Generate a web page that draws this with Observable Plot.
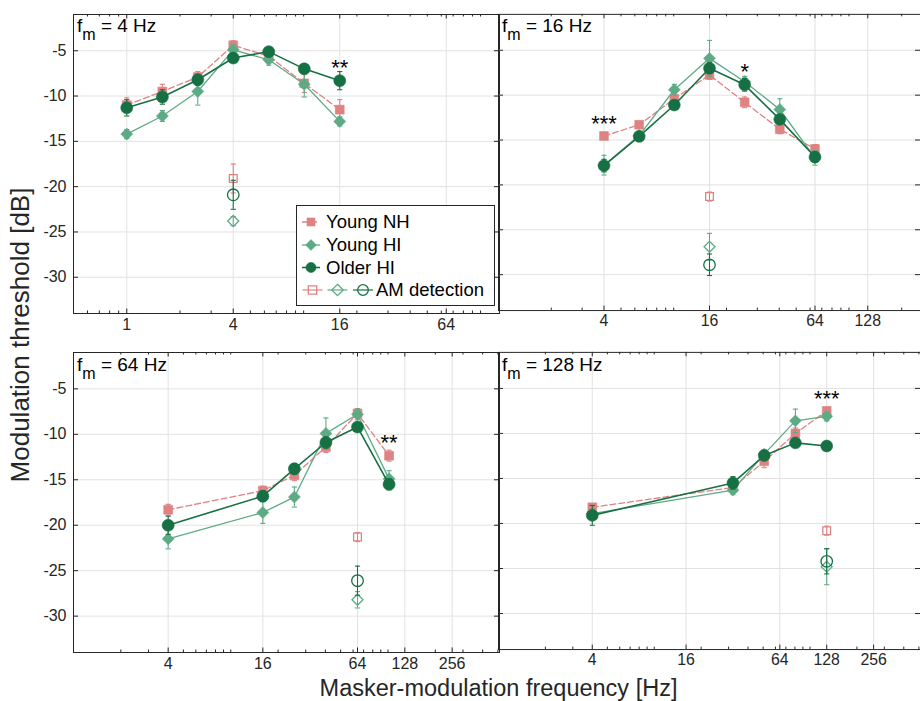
<!DOCTYPE html>
<html><head><meta charset="utf-8">
<script src="https://cdn.jsdelivr.net/npm/d3@7"></script>
<script src="https://cdn.jsdelivr.net/npm/@observablehq/plot@0.6"></script>
<style>
body{margin:0;background:#fff;}
#fig{position:relative;width:920px;height:701px;font-family:"Liberation Sans",Arial,Helvetica,sans-serif;color:#262626;overflow:hidden;background:#fff}
.panel{position:absolute}
.panel svg{overflow:visible;background:none}
.title{position:absolute;font-size:19px;line-height:20px;white-space:nowrap;color:#000}
.title .sub{font-size:16px;position:relative;top:8px}
#ylab{position:absolute;left:20px;top:335px;transform:translate(-50%,-50%) rotate(-90deg);font-size:26px;line-height:28px;white-space:nowrap;color:#262626}
#xlab{position:absolute;left:0;width:997px;top:676px;text-align:center;font-size:23.5px;line-height:24px;color:#262626}
#legend{position:absolute;left:296px;top:205px;width:197px;height:99px;border:1px solid #262626;background:#fff}
</style></head>
<body>
<div id="fig">
  <div id="p0" class="panel" style="left:0;top:0"></div>
  <div id="p1" class="panel" style="left:498px;top:0"></div>
  <div id="p2" class="panel" style="left:0;top:340px"></div>
  <div id="p3" class="panel" style="left:498px;top:340px"></div>
  <div class="title" style="left:77px;top:16px">f<span class="sub">m</span> = 4 Hz</div>
  <div class="title" style="left:502px;top:16px">f<span class="sub">m</span> = 16 Hz</div>
  <div class="title" style="left:77px;top:355px">f<span class="sub">m</span> = 64 Hz</div>
  <div class="title" style="left:502px;top:355px">f<span class="sub">m</span> = 128 Hz</div>
  <div id="ylab">Modulation threshold [dB]</div>
  <div id="xlab">Masker-modulation frequency [Hz]</div>
  <div id="legend"></div>
</div>
<script>
// ---------------- data ----------------
const groupNames = ["Young NH", "Young HI", "Older HI", "AM detection"];
const yTicks = [-30, -25, -20, -15, -10, -5];

// f_m = 4 Hz
const freq4 = [1, 1.59, 2.52, 4, 6.35, 10.08, 16];
const nh4 = [-11.0, -9.5, -7.9, -4.4, -5.6, -8.6, -11.5];
const nh4Err = [0.8, 0.8, 0.6, 0.5, 0.5, 1.0, 1.1];
const hi4 = [-14.2, -12.2, -9.5, -4.9, -6.0, -8.7, -12.8];
const hi4Err = [0.5, 0.6, 1.5, 0.6, 0.6, 1.4, 0.5];
const ohi4 = [-11.3, -10.1, -8.2, -5.8, -5.1, -7.0, -8.3];
const ohi4Err = [0.9, 0.8, 0.6, 0.5, 0.4, 0.5, 1.0];
const ticks4 = [1, 4, 16, 64];

// f_m = 16 Hz
const freq16 = [4, 6.35, 10.08, 16, 25.4, 40.3, 64];
const nh16 = [-14.55, -13.3, -10.4, -7.75, -10.8, -13.8, -16.0];
const nh16Err = [0.4, 0.4, 0.5, 0.5, 0.6, 0.5, 0.5];
const hi16 = [-17.8, -14.5, -9.4, -5.9, -8.5, -11.6, -17.0];
const hi16Err = [1.1, 0.5, 0.6, 2.0, 0.6, 1.2, 0.8];
const ohi16 = [-17.85, -14.6, -11.1, -7.0, -8.85, -12.7, -16.9];
const ohi16Err = [0.7, 0.5, 0.5, 0.6, 0.7, 0.5, 0.6];
const ticks16 = [4, 16, 64, 128];

// f_m = 64 Hz
const freq64 = [4, 16, 25.4, 40.3, 64, 101.6];
const nh64 = [-18.3, -16.2, -14.5, -11.4, -7.7, -12.35];
const nh64Err = [0.6, 0.5, 0.6, 0.6, 0.5, 0.6];
const hi64 = [-21.5, -18.6, -16.9, -9.9, -7.8, -14.9];
const hi64Err = [1.1, 1.2, 1.1, 1.7, 0.6, 0.9];
const ohi64 = [-20.0, -16.8, -13.8, -10.9, -9.2, -15.5];
const ohi64Err = [1.0, 0.6, 0.6, 0.6, 0.5, 0.6];
const ticks64 = [4, 16, 64, 128, 256];

// f_m = 128 Hz
const freq128 = [4, 32, 50.8, 80.6, 128];
const nh128 = [-18.2, -16.0, -13.1, -10.0, -7.5];
const nh128Err = [0.4, 0.4, 0.7, 0.6, 0.4];
const hi128 = [-18.9, -16.3, -12.3, -8.6, -8.1];
const hi128Err = [0.5, 0.5, 0.5, 1.3, 0.5];
const ohi128 = [-19.1, -15.5, -12.45, -11.05, -11.4];
const ohi128Err = [1.1, 0.7, 0.5, 0.5, 0.4];
const ticks128 = [4, 16, 64, 128, 256];

// AM detection (at f_m)
const fm = [4, 16, 64, 128];
const amNH = [-19.1, -21.3, -21.3, -20.8];
const amNHErr = [1.6, 0.5, 0.5, 0.5];
const amHI = [-23.8, -26.9, -28.2, -24.8];
const amHIErr = [0.5, 1.5, 0.9, 2.0];
const amOHI = [-20.9, -28.9, -26.1, -24.2];
const amOHIErr = [1.6, 1.2, 1.6, 1.4];

// significance stars
const stars4 = [{f: 16, v: -6.3, s: "**"}];
const stars16 = [{f: 4, v: -12.6, s: "***"}, {f: 25.4, v: -6.8, s: "*"}];
const stars64 = [{f: 101.6, v: -10.3, s: "**"}];
const stars128 = [{f: 128, v: -5.55, s: "***"}];

// ---------------- style ----------------
const C = {nh: "#df8282", hi: "#5dab85", ohi: "#177044"};
const gridColor = "#e2e2e2";
const axisColor = "#262626";
const capSymbol = {draw(ctx, size) { const w = Math.sqrt(size / Math.PI); ctx.moveTo(-w, 0); ctx.lineTo(w, 0); }};

function logMinor([lo, hi]) {
  const out = [];
  for (let e = Math.floor(Math.log10(lo)); e <= Math.ceil(Math.log10(hi)); e++)
    for (let m = 1; m <= 9; m++) { const v = m * 10 ** e; if (v > lo * 1.0001 && v < hi * 0.9999) out.push(v); }
  return out;
}
const rowsOf = (freq, vals, errs) => freq.map((f, i) => ({f, v: vals[i], e: errs[i]}));

function groupMarks(rows, color, symbol, r, dash, sw, open) {
  const ms = [];
  if (!open) ms.push(Plot.line(rows, {x: "f", y: "v", stroke: color, strokeWidth: sw, strokeDasharray: dash}));
  ms.push(Plot.ruleX(rows, {x: "f", y1: d => d.v - d.e, y2: d => d.v + d.e, stroke: color, strokeWidth: 1.1}));
  ms.push(Plot.dot(rows, {x: "f", y: d => d.v + d.e, symbol: capSymbol, r: 2.6, stroke: color, fill: "none", strokeWidth: 1.1}));
  ms.push(Plot.dot(rows, {x: "f", y: d => d.v - d.e, symbol: capSymbol, r: 2.6, stroke: color, fill: "none", strokeWidth: 1.1}));
  if (open) ms.push(Plot.dot(rows, {x: "f", y: "v", symbol, r, fill: "none", stroke: color, strokeWidth: 1.3}));
  else ms.push(Plot.dot(rows, {x: "f", y: "v", symbol, r, fill: color, stroke: color, strokeWidth: 0.6}));
  return ms;
}

function panel(el, cfg) {
  const width = 426, height = 340;
  const mL = cfg.showY ? 73 : 0;
  const W = width + mL;
  const fw = width, fh = height - cfg.mT - cfg.mB;
  const minor = logMinor(cfg.domain).filter(v => !cfg.ticks.includes(v));
  const i = cfg.idx;
  const marks = [
    Plot.ruleY(yTicks, {stroke: gridColor}),
    Plot.ruleX(cfg.ticks, {stroke: gridColor}),
    Plot.ruleX(minor, {insetTop: fh - 2.5, stroke: axisColor}),
    Plot.ruleX(minor, {insetBottom: fh - 2.5, stroke: axisColor}),
    Plot.ruleX(cfg.ticks, {insetTop: fh - 4.5, stroke: axisColor}),
    Plot.ruleX(cfg.ticks, {insetBottom: fh - 4.5, stroke: axisColor}),
    Plot.ruleY(yTicks, {insetRight: fw - 5, stroke: axisColor}),
    Plot.ruleY(yTicks, {insetLeft: fw - 5, stroke: axisColor}),
    Plot.text(cfg.ticks, {x: d => d, frameAnchor: "bottom", dy: 16, text: d => String(d), fontSize: 16, fill: axisColor}),
    cfg.showY ? Plot.text(yTicks, {y: d => d, frameAnchor: "left", dx: -7, textAnchor: "end", text: d => String(d), fontSize: 16, fill: axisColor}) : null,
    ...groupMarks(rowsOf(cfg.freq, cfg.nh, cfg.nhErr), C.nh, "square", 5.0, "6,3", 1.3, false),
    ...groupMarks(rowsOf(cfg.freq, cfg.hi, cfg.hiErr), C.hi, "diamond2", 5.4, null, 1.3, false),
    ...groupMarks(rowsOf(cfg.freq, cfg.ohi, cfg.ohiErr), C.ohi, "circle", 6.0, null, 1.6, false),
    ...groupMarks([{f: fm[i], v: amNH[i], e: amNHErr[i]}], C.nh, "square", 4.4, null, 1, true),
    ...groupMarks([{f: fm[i], v: amHI[i], e: amHIErr[i]}], C.hi, "diamond2", 5.0, null, 1, true),
    ...groupMarks([{f: fm[i], v: amOHI[i], e: amOHIErr[i]}], C.ohi, "circle", 5.8, null, 1, true),
    Plot.frame({stroke: axisColor, strokeWidth: 1}),
    Plot.text(cfg.stars, {x: "f", y: "v", text: "s", fontSize: 22, dy: 5.5, fill: "#000"})
  ];
  const svg = Plot.plot({
    width: W, height,
    marginLeft: mL, marginRight: 0, marginTop: cfg.mT, marginBottom: cfg.mB,
    style: {overflow: "visible", fontFamily: "'Liberation Sans', Arial, sans-serif", background: "none"},
    x: {type: "log", base: 2, domain: cfg.domain, axis: null},
    y: {domain: [-34, -1], axis: null},
    marks
  });
  el.appendChild(svg);
}

panel(document.getElementById("p0"), {idx: 0, showY: true, mT: 14, mB: 27, domain: [0.5, 128], ticks: ticks4,
  freq: freq4, nh: nh4, nhErr: nh4Err, hi: hi4, hiErr: hi4Err, ohi: ohi4, ohiErr: ohi4Err, stars: stars4});
panel(document.getElementById("p1"), {idx: 1, showY: false, mT: 14, mB: 27, domain: [1, 256], ticks: ticks16,
  freq: freq16, nh: nh16, nhErr: nh16Err, hi: hi16, hiErr: hi16Err, ohi: ohi16, ohiErr: ohi16Err, stars: stars16});
panel(document.getElementById("p2"), {idx: 2, showY: true, mT: 12, mB: 28, domain: [1, 512], ticks: ticks64,
  freq: freq64, nh: nh64, nhErr: nh64Err, hi: hi64, hiErr: hi64Err, ohi: ohi64, ohiErr: ohi64Err, stars: stars64});
panel(document.getElementById("p3"), {idx: 3, showY: false, mT: 12, mB: 28, domain: [1, 512], ticks: ticks128,
  freq: freq128, nh: nh128, nhErr: nh128Err, hi: hi128, hiErr: hi128Err, ohi: ohi128, ohiErr: ohi128Err, stars: stars128});

// ---------------- legend ----------------
(function legend() {
  const svg = d3.create("svg").attr("width", 197).attr("height", 99)
    .style("font-family", "'Liberation Sans', Arial, sans-serif");
  const rowsY = [16, 39, 61.5, 84];
  const sym = (g, type, cx, cy, color, open) => {
    const sizes = {square: 5.0, diamond2: 5.4, circle: 5.6};
    const r = sizes[type] * (open ? 0.95 : 0.9);
    const s = d3.symbol(type === "square" ? d3.symbolSquare : type === "circle" ? d3.symbolCircle : d3.symbolDiamond2, Math.PI * r * r);
    g.append("path").attr("d", s()).attr("transform", `translate(${cx},${cy})`)
      .attr("fill", open ? "none" : color).attr("stroke", color).attr("stroke-width", open ? 1.3 : 0.6);
  };
  const series = [["square", C.nh, "6,3"], ["diamond2", C.hi, null], ["circle", C.ohi, null]];
  series.forEach(([type, color, dash], k) => {
    const y = rowsY[k];
    svg.append("line").attr("x1", 5).attr("x2", 23).attr("y1", y).attr("y2", y)
      .attr("stroke", color).attr("stroke-width", k === 2 ? 1.6 : 1.3).attr("stroke-dasharray", dash);
    sym(svg, type, 14, y, color, false);
    svg.append("text").attr("x", 29).attr("y", y).attr("dy", "0.35em").attr("font-size", 18.5).attr("fill", "#000").text(groupNames[k]);
  });
  const y = rowsY[3];
  [[15.5, "square", C.nh], [40.5, "diamond2", C.hi], [66, "circle", C.ohi]].forEach(([cx, type, color]) => {
    svg.append("line").attr("x1", cx - 10).attr("x2", cx + 10).attr("y1", y).attr("y2", y).attr("stroke", color).attr("stroke-width", 1.2);
    sym(svg, type, cx, y, color, true);
  });
  svg.append("text").attr("x", 79).attr("y", y).attr("dy", "0.35em").attr("font-size", 18.5).attr("fill", "#000").text(groupNames[3]);
  document.getElementById("legend").appendChild(svg.node());
})();
</script>
</body></html>
